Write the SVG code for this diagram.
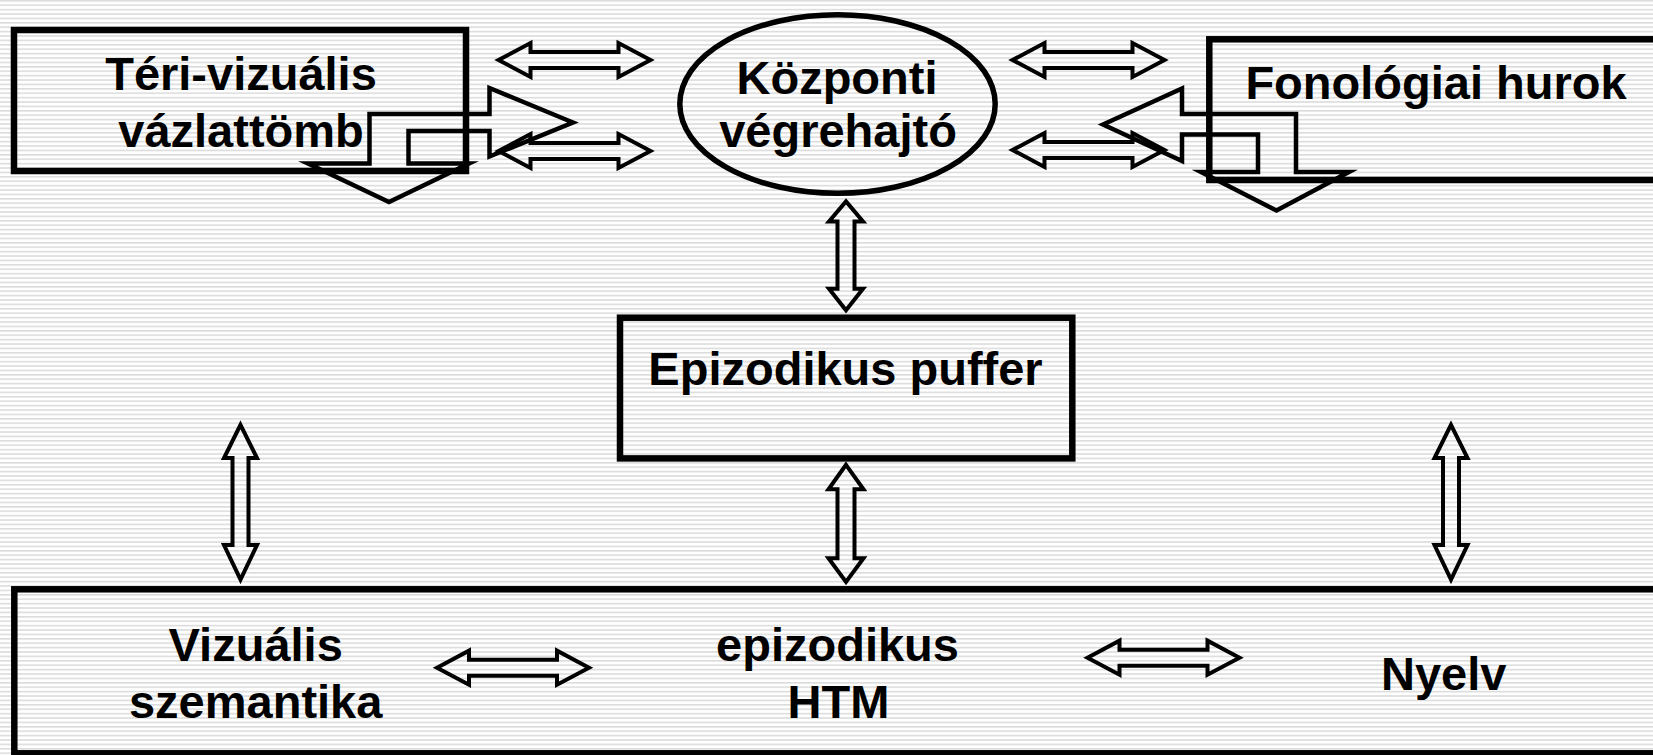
<svg xmlns="http://www.w3.org/2000/svg" xmlns:xlink="http://www.w3.org/1999/xlink" width="1653" height="755" viewBox="0 0 1653 755">
<style>
.box{fill:none;stroke:#000;stroke-width:6.5}
.ell{fill:none;stroke:#000;stroke-width:5.5}
.arr{fill:none;stroke:#000;stroke-width:4;stroke-linejoin:miter;stroke-miterlimit:10}
.bent{fill:none;stroke:#000;stroke-width:4.5;stroke-linejoin:miter;stroke-miterlimit:10}
.lbl{font-family:"Liberation Sans",Arial,Helvetica,sans-serif;font-weight:bold;font-size:47px;fill:#000;text-anchor:middle}
</style>
<defs>
<pattern id="stripes" width="20" height="4.4" patternUnits="userSpaceOnUse">
<rect width="20" height="4.4" fill="#ffffff"/>
<rect y="0" width="20" height="1.6" fill="#dcdcdc"/>
</pattern>
<path id="hdbl" d="M-76,0 L-44,-17 L-44,-8 L44,-8 L44,-17 L76,0 L44,17 L44,8 L-44,8 L-44,17 Z"/>
</defs>
<rect width="1653" height="755" fill="url(#stripes)"/>

<g id="teri-vizualis">
<rect class="box" x="14" y="30" width="452" height="141"/>
<text class="lbl" x="241" y="90">Téri-vizuális</text>
<text class="lbl" x="241" y="147">vázlattömb</text>
</g>

<g id="kozponti-vegrehajto">
<ellipse class="ell" cx="837.5" cy="104" rx="157.7" ry="89.3"/>
<text class="lbl" x="837" y="94">Központi</text>
<text class="lbl" x="838" y="147">végrehajtó</text>
</g>

<g id="fonologiai-hurok">
<rect class="box" x="1209.3" y="39.3" width="500" height="140.7"/>
<text class="lbl" x="1436" y="98.5">Fonológiai hurok</text>
</g>

<g id="epizodikus-puffer">
<rect class="box" x="620" y="317.7" width="452.3" height="140.7"/>
<text class="lbl" x="845.5" y="385">Epizodikus puffer</text>
</g>

<g id="htm">
<rect class="box" x="14.3" y="589.3" width="1700" height="164"/>
<text class="lbl" x="255.7" y="661">Vizuális</text>
<text class="lbl" x="255.7" y="718">szemantika</text>
<text class="lbl" x="837.5" y="660.7">epizodikus</text>
<text class="lbl" x="838.5" y="718.3">HTM</text>
<text class="lbl" x="1443.7" y="690">Nyelv</text>
</g>

<g id="connectors">
<use class="arr" xlink:href="#hdbl" href="#hdbl" transform="translate(574.5,60)"/>
<use class="arr" xlink:href="#hdbl" href="#hdbl" transform="translate(574.5,151)"/>
<use class="arr" xlink:href="#hdbl" href="#hdbl" transform="translate(1088.5,60)"/>
<use class="arr" xlink:href="#hdbl" href="#hdbl" transform="translate(1088.5,150)"/>
<use class="arr" xlink:href="#hdbl" href="#hdbl" transform="translate(513,667.7)"/>
<use class="arr" xlink:href="#hdbl" href="#hdbl" transform="translate(1163.5,657.7)"/>
<path class="arr" d="M846,201.4 L863,221.5 L854.5,221.5 L854.5,288.7 L863,288.7 L846,310.2 L829,288.7 L837.5,288.7 L837.5,221.5 L829,221.5 Z"/>
<path class="arr" d="M846,464.8 L863.5,489.3 L854.5,489.3 L854.5,558.3 L863.5,558.3 L846,582 L828.5,558.3 L837.5,558.3 L837.5,489.3 L828.5,489.3 Z"/>
<path class="arr" d="M240.5,424.8 L257,458 L248.5,458 L248.5,545 L257,545 L240.5,579.6 L224,545 L232.5,545 L232.5,458 L224,458 Z"/>
<path class="arr" d="M1451,424.8 L1467.5,458 L1459,458 L1459,545 L1467.5,545 L1451,579.6 L1434.5,545 L1443,545 L1443,458 L1434.5,458 Z"/>
<path class="bent" d="M573,122.5 L489.5,88 L489.5,114 L369.5,114 L369.5,163.5 L308,163.5 L389,202 L469,163.5 L408.5,163.5 L408.5,131 L489.5,131 L489.5,156.5 Z"/>
<path class="bent" d="M1103,124.5 L1182,88.5 L1182,114 L1296,114 L1296,172 L1349,172 L1276.5,210.5 L1201,172 L1258,172 L1258,134.5 L1182,134.5 L1182,161 Z"/>
</g>
</svg>
